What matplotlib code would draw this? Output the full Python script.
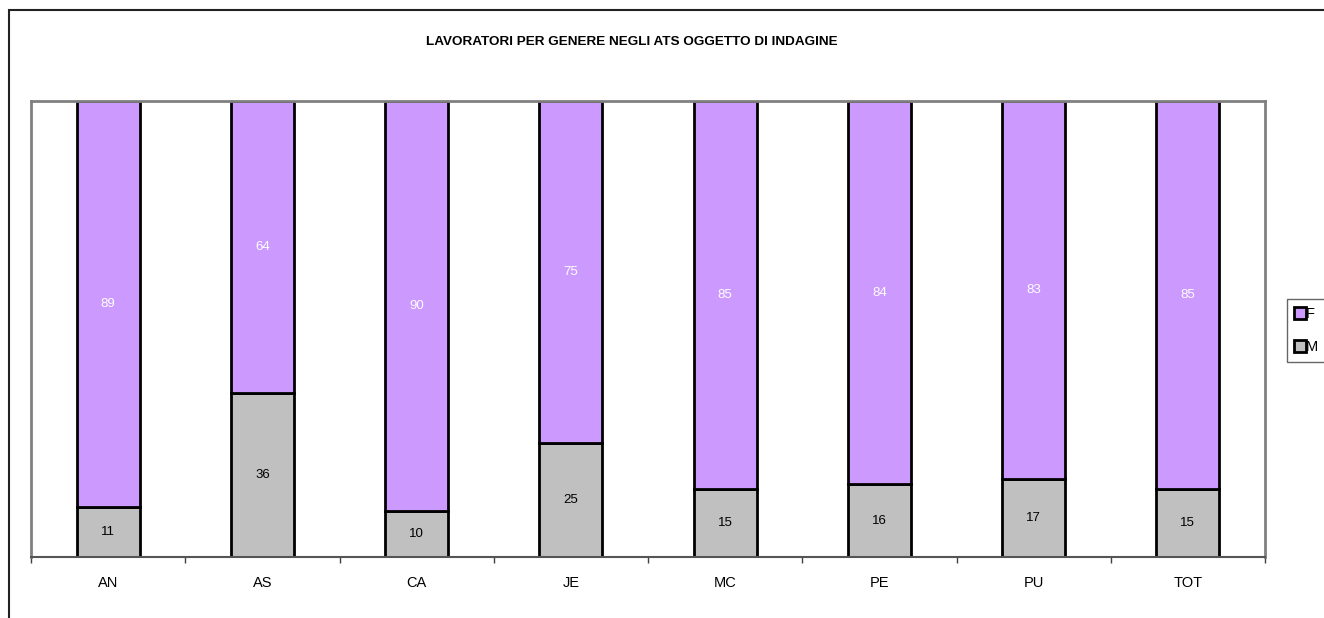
import matplotlib.pyplot as plt
from matplotlib.patches import Rectangle
from matplotlib.lines import Line2D
from matplotlib import font_manager

plt.rcParams['font.family'] = ['Liberation Sans', 'DejaVu Sans']

# percentuali lavoratori per genere
categorie = ["AN", "AS", "CA", "JE", "MC", "PE", "PU", "TOT"]
femmine = [89, 64, 90, 75, 85, 84, 83, 85]
maschi = [11, 36, 10, 25, 15, 16, 17, 15]

col_f = "#CC99FF"
col_m = "#C0C0C0"

# titolo in carattere stretto se disponibile
nomi = {f.name for f in font_manager.fontManager.ttflist}
font_titolo = "Liberation Sans Narrow" if "Liberation Sans Narrow" in nomi else "Liberation Sans"
size_titolo = 11.8 if font_titolo == "Liberation Sans Narrow" else 9.7

fig = plt.figure(figsize=(13.24, 6.18), dpi=100)

# cornice esterna del grafico
fig.patches.append(Rectangle((9 / 1324, -0.1), 1.2, 0.1 + (618 - 10) / 618,
                             transform=fig.transFigure, fill=False,
                             edgecolor="#222222", linewidth=1.5))

ax = fig.add_axes([31 / 1324, 61 / 618, 1234 / 1324, 456 / 618])

x = range(len(categorie))
w = 0.41
bm = ax.bar(x, maschi, width=w, color=col_m, edgecolor="black", linewidth=2, label="M")
bf = ax.bar(x, femmine, width=w, bottom=maschi, color=col_f, edgecolor="black",
            linewidth=2, label="F")

for i in x:
    ax.text(i, maschi[i] / 2, str(maschi[i]), ha="center", va="center",
            fontsize=9.5, color="black")
    ax.text(i, maschi[i] + femmine[i] / 2, str(femmine[i]), ha="center", va="center",
            fontsize=9.5, color="white")

ax.set_xlim(-0.5, len(categorie) - 0.5)
ax.set_ylim(0, 100)
ax.set_yticks([])

ax.set_xticks(list(x))
ax.set_xticklabels(categorie, fontsize=10.5)
ax.tick_params(axis="x", which="major", length=0, pad=14)
ax.set_xticks([i - 0.5 for i in range(len(categorie) + 1)], minor=True)
ax.tick_params(axis="x", which="minor", length=4, width=1, color="#404040", direction="out")

for s in ["top", "right", "left"]:
    ax.spines[s].set_color("#808080")
    ax.spines[s].set_linewidth(2)
ax.spines["bottom"].set_color("#555555")
ax.spines["bottom"].set_linewidth(1.5)

fig.text(632 / 1324, 1 - 42 / 618, "LAVORATORI PER GENERE NEGLI ATS OGGETTO DI INDAGINE",
         ha="center", va="center", fontsize=size_titolo, fontweight="bold",
         family=[font_titolo, "DejaVu Sans"])

handles = [
    Line2D([], [], linestyle="none", marker="s", markersize=9, markerfacecolor=col_f,
           markeredgecolor="black", markeredgewidth=2),
    Line2D([], [], linestyle="none", marker="s", markersize=9, markerfacecolor=col_m,
           markeredgecolor="black", markeredgewidth=2),
]
leg = fig.legend(handles, ["F", "M"], loc="upper left",
                 bbox_to_anchor=(1287 / 1324, 1 - 299 / 618), fontsize=10.5,
                 frameon=True, fancybox=False, handlelength=0.7, handletextpad=0.05,
                 borderpad=0.55, labelspacing=1.3, borderaxespad=0)
leg.get_frame().set_edgecolor("#404040")
leg.get_frame().set_linewidth(1)

fig.savefig("out.png", dpi=100)
